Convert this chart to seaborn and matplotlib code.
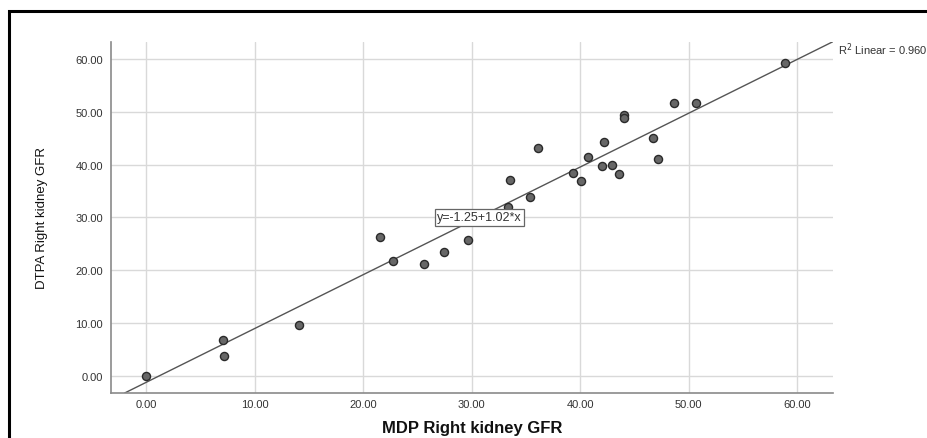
import matplotlib
matplotlib.use("Agg")
import matplotlib.pyplot as plt
import seaborn as sns
import pandas as pd
from matplotlib.patches import Rectangle

# Data
mdp_gfr = [0.0, 7.06, 7.12, 14.03, 21.5, 22.7, 25.6, 27.4, 29.6,
           33.3, 35.4, 33.5, 36.1, 39.3, 40.1, 40.7, 42.0, 42.2, 42.9,
           43.6, 44.0, 44.0, 46.7, 47.2, 48.6, 50.7, 58.9]
dtpa_gfr = [0.0, 6.76, 3.79, 9.66, 26.2, 21.7, 21.1, 23.4, 25.7,
            32.0, 33.9, 37.1, 43.1, 38.4, 36.8, 41.4, 39.7, 44.3, 40.0,
            38.3, 49.5, 48.8, 45.1, 41.0, 51.6, 51.6, 59.2]
tick_values = [0, 10, 20, 30, 40, 50, 60]
tick_labels = ["0.00", "10.00", "20.00", "30.00", "40.00", "50.00", "60.00"]
fit_intercept = -1.25
fit_slope = 1.02
r2_linear = 0.960
x_label = "MDP Right kidney GFR"
y_label = "DTPA Right kidney GFR"

df = pd.DataFrame({x_label: mdp_gfr, y_label: dtpa_gfr})

sns.set_theme(style="white")
plt.rcParams['font.family'] = ['Liberation Sans', 'DejaVu Sans']

fig = plt.figure(figsize=(9.27, 4.39), dpi=100)
ax = fig.add_axes([0.1194, 0.1025, 0.7792, 0.8002])

lo, hi = -3.3, 63.3
ax.set_xlim(lo, hi)
ax.set_ylim(lo, hi)

ax.set_xticks(tick_values)
ax.set_xticklabels(tick_labels)
ax.set_yticks(tick_values)
ax.set_yticklabels(tick_labels)
ax.grid(True, color="#d9d9d9", linewidth=1.0)
ax.set_axisbelow(True)
ax.tick_params(axis="both", length=0, labelsize=8, labelcolor="#333333")
ax.tick_params(axis="y", pad=5.5)
ax.tick_params(axis="x", pad=4)

for s in ["top", "right"]:
    ax.spines[s].set_visible(False)
for s in ["left", "bottom"]:
    ax.spines[s].set_color("#8a8a8a")
    ax.spines[s].set_linewidth(1.2)

ax.axline((0, fit_intercept), slope=fit_slope, color="#555555", linewidth=1.0, zorder=2)

sns.scatterplot(data=df, x=x_label, y=y_label, ax=ax, s=34,
                color="#676767", edgecolor="#2a2a2a", linewidth=1.0, zorder=3)

ax.set_xlabel(x_label, fontsize=12, fontweight="bold", color="#111111", labelpad=8)
ax.set_ylabel(y_label, fontsize=9.5, color="#111111", labelpad=20)

ax.text(30.7, 30.0, f"y={fit_intercept:.2f}+{fit_slope:.2f}*x", ha="center", va="center",
        fontsize=9, color="#333333", zorder=4,
        bbox=dict(boxstyle="square,pad=0.2", facecolor="white", edgecolor="#666666", linewidth=0.9))

fig.text(838 / 927, 1 - 50 / 439, f"R$^2$ Linear = {r2_linear:.3f}", ha="left", va="center",
         fontsize=8, color="#333333")

fig.patches.append(Rectangle((9.3 / 927, -0.1), 1.2, (1 - 11.7 / 439) + 0.1,
                             transform=fig.transFigure, fill=False,
                             edgecolor="black", linewidth=2.2))

fig.savefig("out.png", dpi=100)
